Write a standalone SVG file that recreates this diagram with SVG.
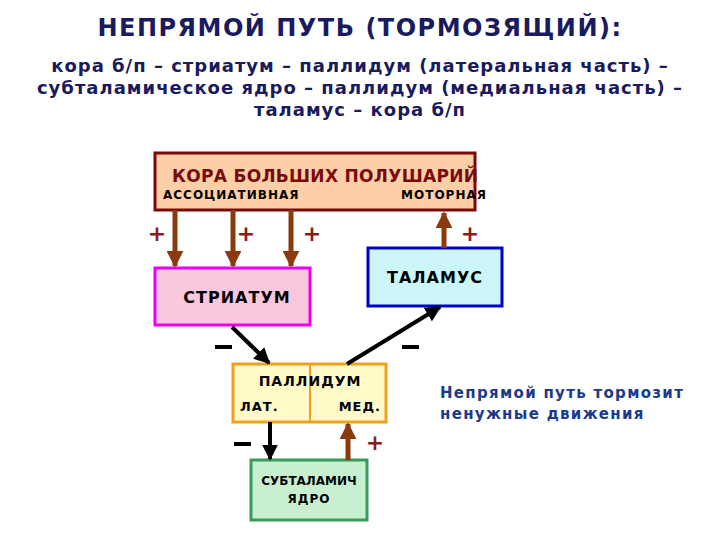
<svg xmlns="http://www.w3.org/2000/svg" width="720" height="540" viewBox="0 0 720 540">
<defs>
<style>
text{font-family:"DejaVu Sans","Liberation Sans",sans-serif;font-weight:bold;letter-spacing:1px}
.t{fill:#1a1a5e;text-anchor:middle}
.pl{fill:#8b1a1a;font-size:22px;text-anchor:middle;letter-spacing:0}
.br{stroke:#8b3a0f;stroke-width:5;fill:none}
.bk{stroke:#000;stroke-width:4;fill:none}
</style>
<marker id="ab" viewBox="0 0 10 10" refX="9" refY="5" markerWidth="3.4" markerHeight="3.4" orient="auto" markerUnits="strokeWidth"><path d="M0,0L10,5L0,10z" fill="#8b3a0f"/></marker>
<marker id="ak" viewBox="0 0 10 10" refX="9" refY="5" markerWidth="4" markerHeight="4" orient="auto" markerUnits="strokeWidth"><path d="M0,0L10,5L0,10z" fill="#000"/></marker>
</defs>
<rect width="720" height="540" fill="#fff"/>
<text class="t" x="360" y="36" font-size="24" style="letter-spacing:1.5px">НЕПРЯМОЙ ПУТЬ (ТОРМОЗЯЩИЙ):</text>
<text class="t" x="360" y="72" font-size="18">кора б/п – стриатум – паллидум (латеральная часть) –</text>
<text class="t" x="360" y="94" font-size="18">субталамическое ядро – паллидум (медиальная часть) –</text>
<text class="t" x="360" y="116" font-size="18">таламус – кора б/п</text>
<g id="cortex"><rect x="155" y="153" width="320" height="57" fill="#fccfa6" stroke="#7a0a0a" stroke-width="3"/>
<text x="172" y="182" font-size="17" fill="#7a0a0a" style="letter-spacing:0.3px">КОРА БОЛЬШИХ ПОЛУШАРИЙ</text>
<text x="163" y="199" font-size="12" fill="#000">АССОЦИАТИВНАЯ</text>
<text x="487" y="199" font-size="12" fill="#000" text-anchor="end">МОТОРНАЯ</text></g>
<g id="striatum"><rect x="155" y="268" width="155" height="57" fill="#f9c8de" stroke="#ee00ee" stroke-width="3"/>
<text x="237" y="303" font-size="16" text-anchor="middle">СТРИАТУМ</text></g>
<g id="thalamus"><rect x="368" y="248" width="134" height="58" fill="#ccf6f8" stroke="#0000cc" stroke-width="3"/>
<text x="435" y="283" font-size="16" text-anchor="middle">ТАЛАМУС</text></g>
<g id="pallidum"><rect x="233" y="364" width="153" height="58" fill="#fffbc8" stroke="#f0a020" stroke-width="3"/>
<line x1="310" y1="364" x2="310" y2="422" stroke="#f0a020" stroke-width="2"/>
<text x="310" y="386" font-size="14" text-anchor="middle">ПАЛЛИДУМ</text>
<text x="240" y="411" font-size="13">ЛАТ.</text>
<text x="381" y="411" font-size="13" text-anchor="end">МЕД.</text></g>
<g id="subthalamic"><rect x="251" y="460" width="116" height="60" fill="#c8f0d0" stroke="#3a9a5a" stroke-width="3"/>
<text x="309" y="485" font-size="12" text-anchor="middle" style="letter-spacing:0">СУБТАЛАМИЧ</text>
<text x="309" y="503" font-size="12" text-anchor="middle">ЯДРО</text></g>
<g id="connectors">
<line class="br" x1="175" y1="210" x2="175" y2="266" marker-end="url(#ab)"/>
<line class="br" x1="233" y1="210" x2="233" y2="266" marker-end="url(#ab)"/>
<line class="br" x1="291" y1="210" x2="291" y2="266" marker-end="url(#ab)"/>
<line class="br" x1="444" y1="248" x2="444" y2="213" marker-end="url(#ab)"/>
<line class="bk" x1="232" y1="327" x2="269" y2="363" marker-end="url(#ak)"/>
<line class="bk" x1="347" y1="364" x2="440" y2="307" marker-end="url(#ak)"/>
<line class="bk" x1="270" y1="422" x2="270" y2="459" marker-end="url(#ak)"/>
<line class="br" x1="348" y1="460" x2="348" y2="424" marker-end="url(#ab)"/>
</g>
<text class="pl" x="157" y="241">+</text>
<text class="pl" x="246" y="241">+</text>
<text class="pl" x="312" y="241">+</text>
<text class="pl" x="470" y="241">+</text>
<text class="pl" x="375" y="450">+</text>
<rect x="215" y="345" width="17" height="4" fill="#000"/>
<rect x="402" y="345" width="17" height="4" fill="#000"/>
<rect x="234" y="442" width="17" height="4" fill="#000"/>
<text x="440" y="398" font-size="15" fill="#1a3a8a" style="letter-spacing:1.3px">Непрямой путь тормозит</text>
<text x="440" y="419" font-size="15" fill="#1a3a8a" style="letter-spacing:1.3px">ненужные движения</text>
</svg>
